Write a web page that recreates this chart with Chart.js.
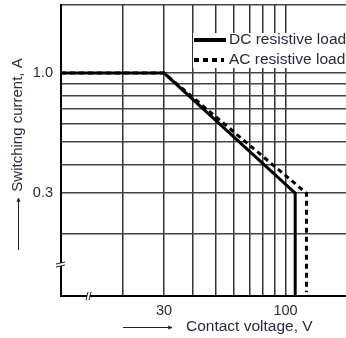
<!DOCTYPE html>
<html>
<head>
<meta charset="utf-8">
<script src="https://cdn.jsdelivr.net/npm/chart.js@4/dist/chart.umd.min.js"></script>
<style>
  html, body { margin: 0; padding: 0; background: #fff; overflow: hidden; }
  #wrap { width: 346px; height: 338px; position: relative; }
</style>
</head>
<body>
<div id="wrap"><canvas id="chart"></canvas></div>
<script>
// --- data ---
const X_MIN = 10.8;
const X_MAX = 182;
const Y_MIN = 0.107;
const Y_MAX = 1.98;

const xGrid = [20, 30, 40, 50, 60, 70, 80, 90, 100];
const xLabels = [30, 100];
const yGrid = [0.2, 0.3, 0.4, 0.5, 0.6, 0.7, 0.8, 0.9, 1.0];
const yLabels = [0.3, 1.0];

const dcVoltage = [10.8, 30, 110, 110];
const dcCurrent = [1.0, 1.0, 0.3, 0.107];
const acVoltage = [10.8, 30, 123, 123];
const acCurrent = [1.0, 1.0, 0.3, 0.111];

const seriesNames = ['DC resistive load', 'AC resistive load'];

const FONT = 'Liberation Sans, Arial, sans-serif';
const TXT = '#2a2a3c';

function pts(xs, ys) {
  return xs.map((x, i) => ({ x: x, y: ys[i] }));
}

// legend, axis titles with arrows, axis break marks
const decor = {
  id: 'decor',
  afterDraw(chart) {
    const ctx = chart.ctx;
    const a = chart.chartArea;
    ctx.save();

    // break marks
    ctx.strokeStyle = '#222';
    ctx.lineWidth = 1;
    ctx.fillStyle = '#fff';
    ctx.fillRect(a.left - 3, 263, 6, 3);
    ctx.beginPath();
    ctx.moveTo(a.left - 5, 264); ctx.lineTo(a.left + 4, 262);
    ctx.moveTo(a.left - 5, 267); ctx.lineTo(a.left + 4, 265);
    ctx.stroke();
    ctx.fillRect(87, a.bottom - 3, 3, 6);
    ctx.beginPath();
    ctx.moveTo(86, a.bottom + 4); ctx.lineTo(88, a.bottom - 4);
    ctx.moveTo(89, a.bottom + 4); ctx.lineTo(91, a.bottom - 4);
    ctx.stroke();

    // legend
    ctx.fillStyle = '#fff';
    ctx.fillRect(193, 33, 160, 35);
    ctx.font = '15.5px ' + FONT;
    ctx.textBaseline = 'middle';
    chart.data.datasets.forEach((ds, i) => {
      const y = 40 + i * 20;
      ctx.strokeStyle = '#000';
      ctx.lineWidth = 4;
      ctx.setLineDash(ds.borderDash || []);
      ctx.beginPath();
      ctx.moveTo(194, y);
      ctx.lineTo(i === 0 ? 226 : 224, y);
      ctx.stroke();
      ctx.setLineDash([]);
      ctx.fillStyle = TXT;
      ctx.fillText(ds.label, 229, y);
    });

    // y title + arrow
    ctx.fillStyle = TXT;
    ctx.save();
    ctx.font = '15px ' + FONT;
    ctx.translate(18, 125);
    ctx.rotate(-Math.PI / 2);
    ctx.textAlign = 'center';
    ctx.fillText('Switching current, A', 0, 0);
    ctx.restore();
    ctx.strokeStyle = '#222';
    ctx.lineWidth = 1;
    ctx.beginPath();
    ctx.moveTo(18.5, 250); ctx.lineTo(18.5, 198);
    ctx.moveTo(17, 202); ctx.lineTo(18.5, 198); ctx.lineTo(20, 202);
    ctx.stroke();

    // x title + arrow
    ctx.textAlign = 'left';
    ctx.fillText('Contact voltage, V', 186, 327);
    ctx.beginPath();
    ctx.moveTo(123, 327.5); ctx.lineTo(172, 327.5);
    ctx.moveTo(168, 326); ctx.lineTo(172, 327.5); ctx.lineTo(168, 329);
    ctx.stroke();

    ctx.restore();
  }
};

new Chart(document.getElementById('chart'), {
  type: 'line',
  data: {
    datasets: [
      {
        label: seriesNames[0],
        data: pts(dcVoltage, dcCurrent),
        borderColor: '#000',
        borderWidth: 3,
        pointRadius: 0,
        tension: 0
      },
      {
        label: seriesNames[1],
        data: pts(acVoltage, acCurrent),
        borderColor: '#000',
        borderWidth: 3,
        borderDash: [5, 4],
        pointRadius: 0,
        tension: 0
      }
    ]
  },
  options: {
    responsive: true,
    maintainAspectRatio: false,
    animation: false,
    layout: { padding: { top: 5, right: 0, left: 0, bottom: 0 } },
    plugins: {
      legend: { display: false },
      tooltip: { enabled: false }
    },
    scales: {
      x: {
        type: 'logarithmic',
        min: X_MIN,
        max: X_MAX,
        afterBuildTicks: s => { s.ticks = xGrid.map(v => ({ value: v })); },
        afterFit: s => { s.height = 42; s.paddingLeft = 0; s.paddingRight = 0; },
        grid: { color: '#333', lineWidth: 1.5, drawTicks: false },
        border: { color: '#000', width: 2 },
        ticks: {
          autoSkip: false,
          maxRotation: 0,
          padding: 6,
          color: TXT,
          font: { family: FONT, size: 14.5 },
          callback: v => xLabels.includes(v) ? String(v) : ''
        }
      },
      y: {
        type: 'logarithmic',
        min: Y_MIN,
        max: Y_MAX,
        afterBuildTicks: s => {
          s.ticks = yGrid.map(v => ({ value: v })).concat([{ value: Y_MAX }]);
        },
        afterFit: s => { s.width = 61; s.paddingTop = 0; s.paddingBottom = 0; },
        grid: { color: '#444', lineWidth: 1.5, drawTicks: false },
        border: { color: '#000', width: 2 },
        ticks: {
          autoSkip: false,
          padding: 8,
          color: TXT,
          font: { family: FONT, size: 14.5 },
          callback: v => yLabels.includes(v) ? v.toFixed(1) : ''
        }
      }
    }
  },
  plugins: [decor]
});
</script>
</body>
</html>
